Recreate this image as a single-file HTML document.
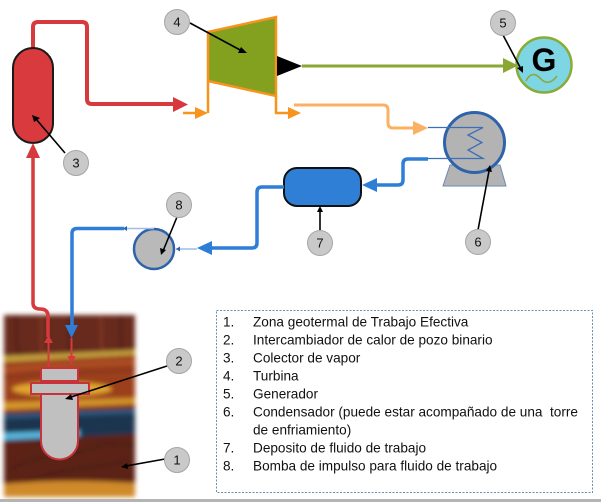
<!DOCTYPE html>
<html><head><meta charset="utf-8"><style>
html,body{margin:0;padding:0;background:#fff;}
svg{display:block;}
text{font-family:"Liberation Sans",sans-serif;}
</style></head><body>
<svg width="601" height="502" viewBox="0 0 601 502" xmlns="http://www.w3.org/2000/svg">
<defs>
<filter id="bl" x="-10%" y="-10%" width="120%" height="120%"><feGaussianBlur stdDeviation="2.3"/></filter>
</defs>
<rect width="601" height="502" fill="#fff"/>

<!-- underground image -->
<g filter="url(#bl)">
 <rect x="4" y="315" width="131" height="182" fill="#672a1d"/>
 <path d="M15,315 C18,330 14,345 20,356" stroke="#4a1a12" stroke-width="2" fill="none"/>
 <path d="M40,315 C44,330 38,345 44,355" stroke="#8a3a26" stroke-width="2" fill="none"/>
 <path d="M70,315 C66,330 72,345 68,354" stroke="#4a1a12" stroke-width="2" fill="none"/>
 <path d="M100,315 C104,330 98,342 104,352" stroke="#8a3a26" stroke-width="2" fill="none"/>
 <path d="M122,315 C118,330 124,340 120,350" stroke="#4a1a12" stroke-width="2" fill="none"/>
 <path d="M4,356 L135,350 L135,355 L4,362 Z" fill="#c4a23e"/>
 <path d="M4,362 L135,355 L135,402 L4,408 Z" fill="#9c3f1f"/>
 <path d="M4,370 C40,366 90,364 135,362" stroke="#c0602a" stroke-width="2" fill="none"/>
 <path d="M4,378 C40,374 90,372 135,370" stroke="#6e2a18" stroke-width="1.5" fill="none"/>
 <ellipse cx="62" cy="389" rx="50" ry="7" fill="#e2a52e"/>
 <path d="M4,402 L135,398 L135,404 L4,410 Z" fill="#d4952b"/>
 <path d="M4,410 L135,404 L135,408 L4,413 Z" fill="#8f3a1c"/>
 <path d="M4,413 L135,408 L135,434 L4,441 Z" fill="#1f3550"/>
 <path d="M4,415 L135,410 L135,413 L4,418 Z" fill="#36608a"/>
 <path d="M4,433 L80,430 L80,436 L4,440 Z" fill="#5ab6de"/>
 <path d="M4,441 L135,434 L135,497 L4,497 Z" fill="#5c2317"/>
 <path d="M10,470 C40,450 70,460 100,445 C115,440 125,448 135,444" stroke="#3e160f" stroke-width="1.5" fill="none"/>
 <path d="M20,485 C50,468 90,470 130,460" stroke="#3e160f" stroke-width="1.5" fill="none"/>
 <path d="M4,484 C40,480 90,480 135,483 L135,497 L4,497 Z" fill="#cf8a2c"/>
</g>

<!-- red pipe to turbine -->
<path d="M33,49 V27 Q33,22 38,22 H82 Q87,22 87,27 V99 Q87,104 92,104 H174" fill="none" stroke="#d63a3c" stroke-width="4"/>
<polygon points="173,97 173,112 188,104.5" fill="#d63a3c"/>

<!-- collector -->
<rect x="13" y="48" width="40" height="95" rx="20" ry="20" fill="#d93a3d" stroke="#1a1a1a" stroke-width="2"/>

<!-- red line down to exchanger -->
<polygon points="26,158 40,158 33,143" fill="#d63a3c"/>
<path d="M33,157 V303 Q33,309 40,309 Q48,309 48,316 V337" fill="none" stroke="#d63a3c" stroke-width="3.5"/>
<polygon points="44,343 53,343 48.5,335" fill="#d63a3c"/>
<path d="M48.5,343 V368" stroke="#d63a3c" stroke-width="2"/>

<!-- turbine -->
<path d="M208,81 V113" stroke="#f7941d" stroke-width="2.5"/>
<path d="M276,96 V113 H289" fill="none" stroke="#f7941d" stroke-width="2.5"/>
<path d="M183,113 H196" stroke="#f7941d" stroke-width="2.5"/>
<polygon points="195,107 195,119 208,113" fill="#f7941d"/>
<polygon points="288,107 288,119 301,113" fill="#f7941d"/>
<polygon points="208,32 276,17 276,96 208,81" fill="#83a01e" stroke="#f7941d" stroke-width="2.5"/>
<polygon points="277,56 277,76 302,66" fill="#000"/>

<!-- green shaft -->
<path d="M302,66 H504" stroke="#8aa733" stroke-width="3"/>
<polygon points="503,58 503,73 518,65.5" fill="#8aa733"/>

<!-- generator -->
<circle cx="544" cy="65" r="27.5" fill="#7ed5e4" stroke="#8aab37" stroke-width="2.5"/>
<text x="544" y="71" text-anchor="middle" font-size="32" font-weight="bold" fill="#000">G</text>
<path d="M526,81 C530,73 535,73 540,78 C545,84 551,84 557,76" fill="none" stroke="#8aab37" stroke-width="1.6"/>

<!-- light orange line to condenser -->
<path d="M294,105 H383 Q388,105 388,110 V123 Q388,128 393,128 H414" fill="none" stroke="#fbb163" stroke-width="3"/>
<polygon points="413,121 413,135 428,128" fill="#fbb163"/>

<!-- condenser -->
<polygon points="450,165 500,165 506,186 443,186" fill="#b3b3b3" stroke="#6d89b3" stroke-width="1"/>
<circle cx="474.5" cy="142.5" r="30" fill="#b3b3b3" stroke="#2e62aa" stroke-width="3"/>
<path d="M428,127.5 H483 L468,135 L482,142.5 L468,150 L483,158.5 H428" fill="none" stroke="#3d6fb4" stroke-width="1.3"/>

<!-- blue from condenser to tank -->
<path d="M428,159 H408 Q403,159 403,164 V180 Q403,185 398,185 H377" fill="none" stroke="#2e7dd7" stroke-width="3.5"/>
<polygon points="377,178 377,192 362,185" fill="#2e7dd7"/>

<!-- tank -->
<rect x="284" y="168" width="77" height="38" rx="13" ry="13" fill="#2f7fd7" stroke="#111" stroke-width="2"/>

<!-- blue from tank to pump -->
<path d="M284,187 H262 Q257,187 257,192 V243 Q257,248 252,248 H212" fill="none" stroke="#2e7dd7" stroke-width="3.5"/>
<polygon points="212,241 212,255 197,248" fill="#2e7dd7"/>
<path d="M197,249 H176" stroke="#9dbde6" stroke-width="1.5"/>
<polygon points="180,246.5 180,251.5 176,249" fill="#2e62aa"/>

<!-- pump -->
<circle cx="154" cy="249" r="20" fill="#b9b9b9" stroke="#2e62aa" stroke-width="2.5"/>

<!-- pump outlet -->
<path d="M154,228.5 H124" stroke="#9dbde6" stroke-width="1.5"/>
<polygon points="127,226 127,231 123,228.5" fill="#2e62aa"/>
<path d="M124,228.5 H77 Q72,228.5 72,233.5 V326" fill="none" stroke="#2e7dd7" stroke-width="3.5"/>
<polygon points="65,325 78,325 71.5,338" fill="#2e7dd7"/>
<path d="M71.5,338 V357" stroke="#d63a3c" stroke-width="2"/>
<polygon points="67.5,356 75.5,356 71.5,365" fill="#d63a3c"/>

<!-- heat exchanger -->
<path d="M41,394 V441 A18.5,18.5 0 0 0 78,441 V394 Z" fill="#c0c0c0" stroke="#c8323a" stroke-width="2"/>
<rect x="41" y="368" width="37" height="13" fill="#c0c0c0" stroke="#c8323a" stroke-width="2"/>
<rect x="31" y="383" width="58" height="11" fill="#c0c0c0" stroke="#c8323a" stroke-width="2"/>

<!-- callouts -->
<g stroke="#000" stroke-width="1.6" fill="none">
 <path d="M65,153 L36,119"/>
 <path d="M190,23 L242,51"/>
 <path d="M503,35 L521,69"/>
 <path d="M478,230 L489,171"/>
 <path d="M320,231 L320,211"/>
 <path d="M177,217 L163,251"/>
 <path d="M167,366 L71,397"/>
 <path d="M165,459 L126,466"/>
</g>
<g fill="#000">
 <polygon points="32,115 40,118 34,122"/>
 <polygon points="247,53 238,53 241,47"/>
 <polygon points="523,73 517,68 523,66"/>
 <polygon points="490,165 492,172 486,171"/>
 <polygon points="320,206 317,212 323,212"/>
 <polygon points="161,255 160,248 166,250"/>
 <polygon points="65,399 71,394 73,400"/>
 <polygon points="121,467 127,463 128,469"/>
</g>
<g fill="#c9c9c9" stroke="#a6a6a6" stroke-width="1">
 <circle cx="76" cy="163" r="12.5"/>
 <circle cx="177" cy="22" r="12.5"/>
 <circle cx="503" cy="23" r="12.5"/>
 <circle cx="478" cy="242" r="12.5"/>
 <circle cx="320" cy="243" r="12.5"/>
 <circle cx="179" cy="205" r="12.5"/>
 <circle cx="179" cy="361" r="12.5"/>
 <circle cx="177" cy="460" r="12.5"/>
</g>
<g font-size="13" fill="#111" text-anchor="middle">
 <text x="76" y="167.5">3</text>
 <text x="177" y="26.5">4</text>
 <text x="503" y="27.5">5</text>
 <text x="478" y="246.5">6</text>
 <text x="320" y="247.5">7</text>
 <text x="179" y="209.5">8</text>
 <text x="179" y="365.5">2</text>
 <text x="177" y="464.5">1</text>
</g>

<!-- legend -->
<rect x="216.5" y="310.5" width="376" height="182" fill="none" stroke="#6a8fb5" stroke-width="1" stroke-dasharray="2,1.5"/>
<g font-size="13.6" fill="#111">
 <text x="223" y="326.5">1.</text><text x="253" y="326.5">Zona geotermal de Trabajo Efectiva</text>
 <text x="223" y="344.5">2.</text><text x="253" y="344.5">Intercambiador de calor de pozo binario</text>
 <text x="223" y="362.5">3.</text><text x="253" y="362.5">Colector de vapor</text>
 <text x="223" y="380.5">4.</text><text x="253" y="380.5">Turbina</text>
 <text x="223" y="398.5">5.</text><text x="253" y="398.5">Generador</text>
 <text x="223" y="416.5">6.</text><text x="253" y="416.5" xml:space="preserve">Condensador (puede estar acompañado de una  torre</text>
 <text x="253" y="434.5">de enfriamiento)</text>
 <text x="223" y="452.5">7.</text><text x="253" y="452.5">Deposito de fluido de trabajo</text>
 <text x="223" y="470.5">8.</text><text x="253" y="470.5">Bomba de impulso para fluido de trabajo</text>
</g>

<!-- bottom gray line -->
<rect x="0" y="499" width="601" height="3" fill="#b4b4b4"/>
</svg>
</body></html>
